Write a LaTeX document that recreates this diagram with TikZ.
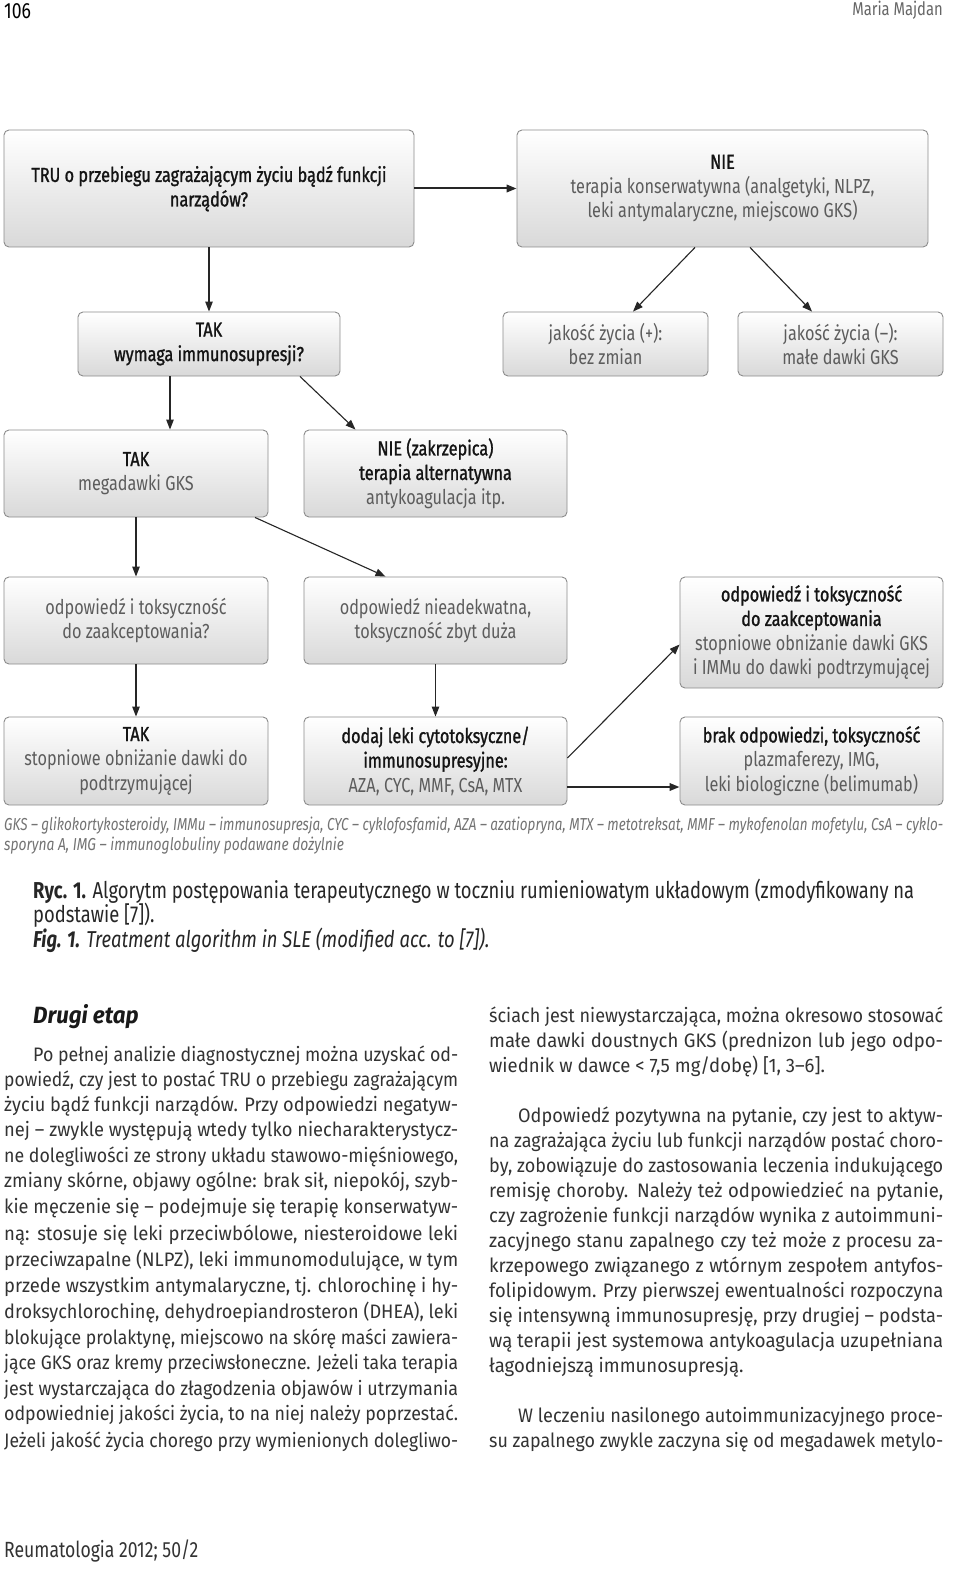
\documentclass[tikz,border=0pt]{standalone}
\usepackage{fontspec}
\usepackage{graphicx}
\setmainfont{Fira Sans}[FakeStretch=0.95]
\newfontfamily\cond{Fira Sans}[FakeStretch=0.8]
\newfontfamily\condb{Fira Sans}[FakeStretch=0.8, FakeBold=1.2]
\usetikzlibrary{arrows.meta}
\definecolor{txtg}{gray}{0.36}
\definecolor{bodyc}{gray}{0.2}
\newcommand\dk[1]{{\condb\textcolor{black!92}{#1}}}
\newsavebox\jbox
\newcommand\jline[2]{\sbox\jbox{#2}\ifdim\wd\jbox>#1\relax\resizebox{#1}{\height}{\usebox\jbox}\else\makebox[#1][s]{#2}\fi}
\tikzset{
  box/.style={draw=black!45, line width=0.9pt, rounded corners=5pt,
    top color=white, bottom color=black!15, align=center, inner sep=0pt,
    font=\cond\fontsize{20.3}{24.5}\selectfont, text=txtg},
  arr/.style={-{Triangle[length=10pt,width=7.5pt]}, draw=black!85, line width=1.1pt},
  harr/.style={arr, line width=2pt},
  body/.style={inner sep=0pt, anchor=mid west, text=bodyc, font=\fontsize{19.5}{25}\selectfont},
  foot/.style={inner sep=0pt, anchor=mid west, text=black!55, font=\cond\itshape\fontsize{17.3}{20}\selectfont},
  capt/.style={inner sep=0pt, anchor=mid west, text=black!85, font=\cond\fontsize{23}{25}\selectfont}
}
\begin{document}
\begin{tikzpicture}[x=1pt,y=-1pt]
\useasboundingbox[fill=white] (0,0) rectangle (960,1589);

% header / footer
\node[inner sep=0pt, anchor=base west, font=\cond\fontsize{22}{24}\selectfont] (pg) at (4,19) {106};
\node[inner sep=0pt, anchor=base east, text=black!60, font=\cond\fontsize{18.5}{20}\selectfont] (au) at (943,16) {Maria Majdan};
\node[inner sep=0pt, anchor=mid west, text=black!80, font=\cond\fontsize{22}{24}\selectfont] (ft) at (4,1555) {Reumatologia 2012; 50/2};

% boxes
\node[box, minimum width=410pt, minimum height=117pt] (A) at (209,188.5)
  {\dk{TRU o przebiegu zagrażającym życiu bądź funkcji}\\\dk{narządów?}};
\node[box, minimum width=411pt, minimum height=117pt] (B) at (722.5,188.5)
  {\dk{NIE}\\terapia konserwatywna (analgetyki, NLPZ,\\leki antymalaryczne, miejscowo GKS)};
\node[box, minimum width=262pt, minimum height=64pt] (C) at (209,344)
  {\dk{TAK}\\\dk{wymaga immunosupresji?}};
\node[box, minimum width=205pt, minimum height=64pt] (D) at (605.5,344)
  {jakość życia (+):\\bez zmian};
\node[box, minimum width=205pt, minimum height=64pt] (E) at (840.5,344)
  {jakość życia (–):\\małe dawki GKS};
\node[box, minimum width=264pt, minimum height=87pt] (F) at (136,473.5)
  {\dk{TAK}\\megadawki GKS};
\node[box, minimum width=263pt, minimum height=87pt] (G) at (435.5,473.5)
  {\dk{NIE (zakrzepica)}\\\dk{terapia alternatywna}\\antykoagulacja itp.};
\node[box, minimum width=264pt, minimum height=87pt] (H) at (136,620.5)
  {odpowiedź i toksyczność\\do zaakceptowania?};
\node[box, minimum width=263pt, minimum height=87pt] (I) at (435.5,620.5)
  {odpowiedź nieadekwatna,\\toksyczność zbyt duża};
\node[box, minimum width=263pt, minimum height=111pt] (J) at (811.5,632.5)
  {\dk{odpowiedź i toksyczność}\\\dk{do zaakceptowania}\\stopniowe obniżanie dawki GKS\\i IMMu do dawki podtrzymującej};
\node[box, minimum width=264pt, minimum height=88pt] (K) at (136,761)
  {\dk{TAK}\\stopniowe obniżanie dawki do\\podtrzymującej};
\node[box, minimum width=263pt, minimum height=88pt] (L) at (435.5,761)
  {\dk{dodaj leki cytotoksyczne/}\\\dk{immunosupresyjne:}\\AZA, CYC, MMF, CsA, MTX};
\node[box, minimum width=263pt, minimum height=88pt] (M) at (811.5,761)
  {\dk{brak odpowiedzi, toksyczność}\\plazmaferezy, IMG,\\leki biologiczne (belimumab)};

% connectors
\draw[harr] (A.east) -- (B.west);
\draw[arr] (A.south) -- (C.north);
\draw[arr] ([xshift=-27.5pt]B.south) -- ([xshift=27.5pt]D.north);
\draw[arr] ([xshift=27.5pt]B.south) -- ([xshift=-28.5pt]E.north);
\draw[arr] ([xshift=-39pt]C.south) -- ([xshift=-39pt]C.south |- F.north);
\draw[arr] ([xshift=91pt]C.south) -- ([xshift=-80pt]G.north);
\draw[arr] (F.south) -- (H.north);
\draw[arr] ([xshift=119pt]F.south) -- ([xshift=-50pt]I.north);
\draw[arr] (H.south) -- (K.north);
\draw[arr] (I.south) -- (L.north);
\draw[arr] ([yshift=3pt]L.east) -- ([yshift=-12pt]J.west);
\draw[harr] ([yshift=-26pt]L.east) -- ([yshift=-26pt]M.west);

% footnote
\node[foot] (fn1) at (4,828) {\jline{939pt}{GKS – glikokortykosteroidy, IMMu – immunosupresja, CYC – cyklofosfamid, AZA – azatiopryna, MTX – metotreksat, MMF – mykofenolan mofetylu, CsA – cyklo-}};
\node[foot] (fn2) at (4,848) {sporyna A, IMG – immunoglobuliny podawane dożylnie};

% caption
\node[capt] (c1) at (33,896) {\jline{881pt}{\textbf{Ryc. 1.} Algorytm postępowania terapeutycznego w toczniu rumieniowatym układowym (zmodyfikowany na}};
\node[capt] (c2) at (33,920) {podstawie [7]).};
\node[capt] (c3) at (33,945) {\itshape\textbf{Fig. 1.} Treatment algorithm in SLE (modified acc. to [7]).};

% left column
\node[inner sep=0pt, anchor=mid west, text=black!90, font=\bfseries\itshape\fontsize{23.5}{25}\selectfont] (hd) at (33,1021) {Drugi etap};
\node[body] (l1) at (33,1059) {\jline{425pt}{Po pełnej analizie diagnostycznej można uzyskać od-}};
\node[body] (l2) at (4,1084) {\jline{454pt}{powiedź, czy jest to postać TRU o przebiegu zagrażającym}};
\node[body] (l3) at (4,1109) {\jline{454pt}{życiu bądź funkcji narządów. Przy odpowiedzi negatyw-}};
\node[body] (l4) at (4,1134) {\jline{454pt}{nej – zwykle występują wtedy tylko niecharakterystycz-}};
\node[body] (l5) at (4,1160) {\jline{454pt}{ne dolegliwości ze strony układu stawowo-mięśniowego,}};
\node[body] (l6) at (4,1185) {\jline{454pt}{zmiany skórne, objawy ogólne: brak sił, niepokój, szyb-}};
\node[body] (l7) at (4,1211) {\jline{454pt}{kie męczenie się – podejmuje się terapię konserwatyw-}};
\node[body] (l8) at (4,1238) {\jline{454pt}{ną: stosuje się leki przeciwbólowe, niesteroidowe leki}};
\node[body] (l9) at (4,1264) {\jline{454pt}{przeciwzapalne (NLPZ), leki immunomodulujące, w tym}};
\node[body] (l10) at (4,1290) {\jline{454pt}{przede wszystkim antymalaryczne, tj. chlorochinę i hy-}};
\node[body] (l11) at (4,1316) {\jline{454pt}{droksychlorochinę, dehydroepiandrosteron (DHEA), leki}};
\node[body] (l12) at (4,1342) {\jline{454pt}{blokujące prolaktynę, miejscowo na skórę maści zawiera-}};
\node[body] (l13) at (4,1367) {\jline{454pt}{jące GKS oraz kremy przeciwsłoneczne. Jeżeli taka terapia}};
\node[body] (l14) at (4,1393) {\jline{454pt}{jest wystarczająca do złagodzenia objawów i utrzymania}};
\node[body] (l15) at (4,1418) {\jline{454pt}{odpowiedniej jakości życia, to na niej należy poprzestać.}};
\node[body] (l16) at (4,1445) {\jline{454pt}{Jeżeli jakość życia chorego przy wymienionych dolegliwo-}};

% right column
\node[body] (r1) at (489,1020) {\jline{454pt}{ściach jest niewystarczająca, można okresowo stosować}};
\node[body] (r2) at (489,1045) {\jline{454pt}{małe dawki doustnych GKS (prednizon lub jego odpo-}};
\node[body] (r3) at (489,1070) {wiednik w dawce < 7,5 mg/dobę) [1, 3–6].};
\node[body] (r4) at (518,1120) {\jline{425pt}{Odpowiedź pozytywna na pytanie, czy jest to aktyw-}};
\node[body] (r5) at (489,1145) {\jline{454pt}{na zagrażająca życiu lub funkcji narządów postać choro-}};
\node[body] (r6) at (489,1170) {\jline{454pt}{by, zobowiązuje do zastosowania leczenia indukującego}};
\node[body] (r7) at (489,1195) {\jline{454pt}{remisję choroby. Należy też odpowiedzieć na pytanie,}};
\node[body] (r8) at (489,1220) {\jline{454pt}{czy zagrożenie funkcji narządów wynika z autoimmuni-}};
\node[body] (r9) at (489,1245) {\jline{454pt}{zacyjnego stanu zapalnego czy też może z procesu za-}};
\node[body] (r10) at (489,1270) {\jline{454pt}{krzepowego związanego z wtórnym zespołem antyfos-}};
\node[body] (r11) at (489,1295) {\jline{454pt}{folipidowym. Przy pierwszej ewentualności rozpoczyna}};
\node[body] (r12) at (489,1320) {\jline{454pt}{się intensywną immunosupresję, przy drugiej – podsta-}};
\node[body] (r13) at (489,1345) {\jline{454pt}{wą terapii jest systemowa antykoagulacja uzupełniana}};
\node[body] (r14) at (489,1370) {łagodniejszą immunosupresją.};
\node[body] (r15) at (518,1420) {\jline{425pt}{W leczeniu nasilonego autoimmunizacyjnego proce-}};
\node[body] (r16) at (489,1445) {\jline{454pt}{su zapalnego zwykle zaczyna się od megadawek metylo-}};
\end{tikzpicture}
\end{document}
